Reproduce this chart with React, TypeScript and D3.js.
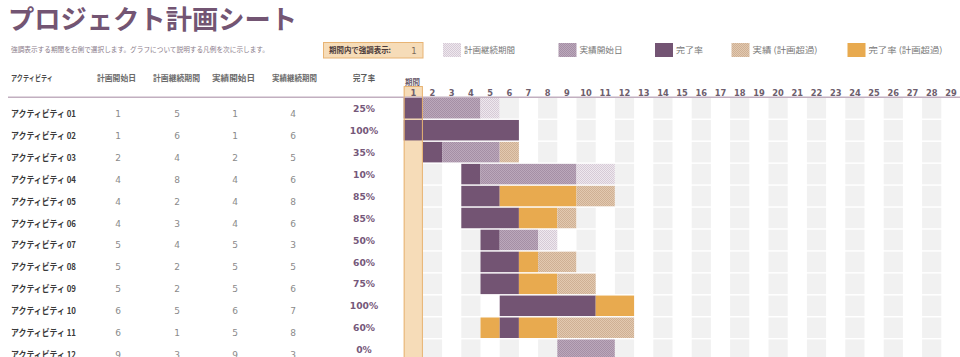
import React from 'react';
import * as d3 from 'd3';

const activities = ['アクティビティ 01','アクティビティ 02','アクティビティ 03','アクティビティ 04','アクティビティ 05','アクティビティ 06','アクティビティ 07','アクティビティ 08','アクティビティ 09','アクティビティ 10','アクティビティ 11','アクティビティ 12'];
const planStart = [1,1,2,4,4,4,5,5,5,6,6,9];
const planDuration = [5,6,4,8,2,3,4,2,2,5,1,3];
const actualStart = [1,1,2,4,4,4,5,5,5,6,5,9];
const actualDuration = [4,6,5,6,8,6,3,5,6,7,8,3];
const percentComplete = [25,100,35,10,85,85,50,60,75,100,60,0];
const periods = [1,2,3,4,5,6,7,8,9,10,11,12,13,14,15,16,17,18,19,20,21,22,23,24,25,26,27,28,29];
const highlightPeriod = 1;
const columnHeaders = ['計画開始日','計画継続期間','実績開始日','実績継続期間'];
const legendLabels = ['計画継続期間','実績開始日','完了率','実績 (計画超過)','完了率 (計画超過)'];

const JP = "'Noto Sans CJK JP', sans-serif";
const NUM = "'DejaVu Sans', Verdana, sans-serif";

const C = {
  title: '#735573',
  dark: '#735473',
  orange: '#e8aa4f',
  tan: '#f6dcb8',
  tanBorder: '#e8b474',
  gray: '#f1f1f1',
};

const X0 = 403.7, PW = 19.2;
const ROW_TOP = 98, ROW_PITCH = 21.95, ROW_H = 20.5;
const xScale = d3.scaleLinear().domain([1, 30]).range([X0, X0 + 29 * PW]);
const yScale = d3.scaleLinear().domain([0, 12]).range([ROW_TOP, ROW_TOP + 12 * ROW_PITCH]);

function cellFill(i: number, p: number): string | null {
  const inPlan = p >= planStart[i] && p < planStart[i] + planDuration[i];
  const s = actualStart[i], d = actualDuration[i], pct = percentComplete[i] / 100;
  const inActual = p >= s && p < s + d;
  const inPct = pct > 0 && p >= s && (p <= s + d * pct - 1 || p === s);
  if (inPct) return inPlan ? C.dark : C.orange;
  if (inActual) return inPlan ? 'url(#pActual)' : 'url(#pBeyond)';
  if (inPlan) return 'url(#pPlan)';
  return null;
}

function rowRuns(i: number) {
  const runs: { from: number; to: number; fill: string }[] = [];
  periods.forEach(p => {
    const f = cellFill(i, p);
    const fill = f ?? (p === highlightPeriod ? null : (p % 2 === 0 ? C.gray : null));
    if (!fill) return;
    const last = runs[runs.length - 1];
    if (last && last.fill === fill && last.to === p - 1) last.to = p;
    else runs.push({ from: p, to: p, fill });
  });
  return runs;
}

function Checker({ id, base, dot }: { id: string; base: string; dot: string }) {
  return (
    <pattern id={id} width={2} height={2} patternUnits="userSpaceOnUse">
      <rect width={2} height={2} fill={base} />
      <rect x={0} y={0} width={1} height={1} fill={dot} />
      <rect x={1} y={1} width={1} height={1} fill={dot} />
    </pattern>
  );
}

export default function App() {
  const rows = d3.range(activities.length);
  const dataX = [118, 177, 235, 293];
  const headerX = [97, 153, 212, 272];
  const headerW = [39, 47, 43, 45];
  const legendX = [443, 558.5, 655, 731.5, 847.5];
  const legendTextW = [51, 43, 27, 65, 74];
  const legendFills = ['url(#pPlan)', 'url(#pActual)', C.dark, 'url(#pBeyond)', C.orange];
  const hx = xScale(highlightPeriod);

  return (
    <svg width={960} height={357} style={{ position: 'absolute', left: 0, top: 0, background: '#fff' }}>
      <defs>
        <Checker id="pPlan" base="#eee8ee" dot="#d6cad6" />
        <Checker id="pActual" base="#bba8bb" dot="#a58fa5" />
        <Checker id="pBeyond" base="#e2c9b0" dot="#cfb094" />
      </defs>

      {/* title */}
      <text x={8} y={28.5} fontFamily={JP} fontWeight={700} fontSize={26.5} fill={C.title} textLength={289} lengthAdjust="spacingAndGlyphs">プロジェクト計画シート</text>
      <text x={11} y={52} fontFamily={JP} fontSize={7.2} fill="#8a7c8a" textLength={258} lengthAdjust="spacingAndGlyphs">強調表示する期間を右側で選択します。グラフについて説明する凡例を次に示します。</text>

      {/* highlight box */}
      <rect x={323.5} y={42.5} width={99.5} height={15.5} fill={C.tan} stroke={C.tanBorder} strokeWidth={1} />
      <text x={329} y={53} fontFamily={JP} fontWeight={700} fontSize={7.5} fill="#4a3a3a" textLength={62} lengthAdjust="spacingAndGlyphs">期間内で強調表示:</text>
      <text x={414} y={53.5} fontFamily={NUM} fontSize={8.5} fill="#7a6a5a" textAnchor="middle">{highlightPeriod}</text>

      {/* legend */}
      {legendLabels.map((l, k) => (
        <g key={l}>
          <rect x={legendX[k]} y={43} width={18} height={14} fill={legendFills[k]} />
          <text x={legendX[k] + 21} y={53} fontFamily={JP} fontSize={8.5} fill="#777" textLength={legendTextW[k]} lengthAdjust="spacingAndGlyphs">{l}</text>
        </g>
      ))}

      {/* column headers */}
      <text x={11} y={81} fontFamily={JP} fontWeight={700} fontSize={7.5} fill="#4a4a4a" textLength={42} lengthAdjust="spacingAndGlyphs">アクティビティ</text>
      {columnHeaders.map((h, k) => (
        <text key={h} x={headerX[k]} y={81} fontFamily={JP} fontWeight={700} fontSize={7.8} fill="#6a6a6a" textLength={headerW[k]} lengthAdjust="spacingAndGlyphs">{h}</text>
      ))}
      <text x={353} y={81} fontFamily={JP} fontWeight={700} fontSize={7.8} fill="#5a5a5a" textLength={22} lengthAdjust="spacingAndGlyphs">完了率</text>
      <text x={405} y={84.5} fontFamily={JP} fontWeight={700} fontSize={7.5} fill="#6a5a6a" textLength={15} lengthAdjust="spacingAndGlyphs">期間</text>

      {/* highlighted period header cell + column */}
      <rect x={hx} y={86.5} width={PW} height={10.5} fill={C.tan} />
      <rect x={hx} y={ROW_TOP} width={PW} height={357 - ROW_TOP} fill={C.tan} />

      {/* period labels */}
      {periods.map(p => (
        <text key={p} x={xScale(p) + PW / 2} y={96} fontFamily={NUM} fontWeight={700} fontSize={8.3} fill="#6d5e6d" textAnchor="middle">{p}</text>
      ))}

      {/* header line */}
      <line x1={8} x2={960} y1={97.2} y2={97.2} stroke="#c2afc0" strokeWidth={1.4} />

      {/* gantt cells */}
      {rows.map(i => (
        <g key={i}>
          {rowRuns(i).map(r => (
            <rect key={r.from} x={xScale(r.from)} y={yScale(i)} width={xScale(r.to + 1) - xScale(r.from)} height={ROW_H} fill={r.fill} />
          ))}
        </g>
      ))}

      {/* highlight borders */}
      <rect x={hx + 0.5} y={86.5} width={PW - 1} height={357} fill="none" stroke={C.tanBorder} strokeWidth={1} />

      {/* table rows */}
      {rows.map(i => {
        const c = yScale(i) + ROW_H / 2;
        const vals = [planStart[i], planDuration[i], actualStart[i], actualDuration[i]];
        return (
          <g key={i}>
            <text x={11} y={c + 8.5} fontFamily={JP} fontWeight={700} fontSize={9} fill="#3a3a3a" textLength={65} lengthAdjust="spacingAndGlyphs">{activities[i]}</text>
            {vals.map((v, k) => (
              <text key={k} x={dataX[k]} y={c + 8.5} fontFamily={NUM} fontSize={9} fill="#8a8a8a" textAnchor="middle">{v}</text>
            ))}
            <text x={364} y={c + 3.6} fontFamily={NUM} fontWeight={700} fontSize={9.2} fill="#76587a" textAnchor="middle">{percentComplete[i] + '%'}</text>
          </g>
        );
      })}
    </svg>
  );
}
